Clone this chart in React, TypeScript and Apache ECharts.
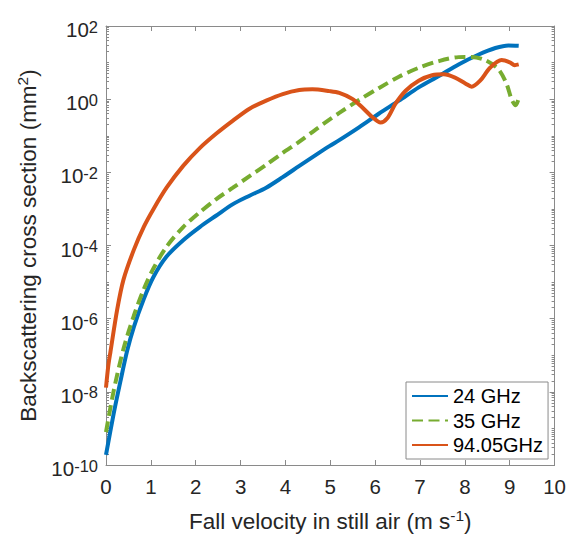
import React, { useEffect, useRef } from 'react';
import * as echarts from 'echarts';

// Fall velocity (m s^-1) and backscattering cross section (mm^2)
const velocity24 = [0, 0.17, 0.32, 0.47, 0.62, 0.84, 1.06, 1.35, 1.72, 2.09, 2.46, 2.83, 3.2, 3.57, 3.94, 4.31, 4.68, 4.98, 5.2, 5.64, 6.08, 6.53, 6.97, 7.42, 7.86, 8.31, 8.68, 8.97, 9.2];
const sigma24 = [1.9e-10, 2.5e-9, 1.9e-8, 1.3e-7, 5.9e-7, 3.4e-6, 1.4e-5, 5.0e-5, 1.4e-4, 3.2e-4, 6.6e-4, 1.35e-3, 2.3e-3, 3.8e-3, 7.4e-3, 1.5e-2, 3.0e-2, 5.2e-2, 7.6e-2, 0.17, 0.4, 0.91, 2.1, 4.3, 8.9, 16.6, 25, 29.5, 28.8];

const velocity35 = [0, 0.17, 0.39, 0.62, 0.84, 1.06, 1.35, 1.72, 2.09, 2.46, 2.83, 3.2, 3.57, 3.94, 4.31, 4.68, 4.98, 5.2, 5.64, 6.08, 6.53, 6.97, 7.42, 7.86, 8.15, 8.45, 8.75, 8.93, 9.04, 9.13, 9.22];
const sigma35 = [7.9e-10, 1.05e-8, 1.5e-7, 1.2e-6, 6.3e-6, 2.4e-5, 9.3e-5, 3.2e-4, 8.1e-4, 1.86e-3, 3.8e-3, 7.9e-3, 1.6e-2, 3.4e-2, 6.9e-2, 0.15, 0.275, 0.42, 0.95, 2.0, 4.1, 7.2, 11, 14.1, 14.3, 11.7, 6.5, 2.6, 1.0, 0.68, 1.26];

const velocity94 = [0, 0.05, 0.1, 0.25, 0.39, 0.62, 0.84, 1.06, 1.35, 1.72, 2.09, 2.46, 2.83, 3.2, 3.57, 3.94, 4.31, 4.6, 4.98, 5.2, 5.49, 5.71, 5.94, 6.12, 6.27, 6.45, 6.68, 6.97, 7.27, 7.53, 7.78, 8.01, 8.15, 8.34, 8.56, 8.82, 9.0, 9.11, 9.2];
const sigma94 = [1.3e-8, 5.0e-8, 1.26e-7, 1.8e-6, 1.17e-5, 7.6e-5, 3.2e-4, 1.0e-3, 3.8e-3, 1.5e-2, 4.6e-2, 0.115, 0.26, 0.55, 0.91, 1.38, 1.78, 1.86, 1.66, 1.48, 1.02, 0.6, 0.32, 0.23, 0.3, 0.74, 1.7, 3.2, 4.5, 4.8, 3.9, 2.7, 2.2, 3.2, 7.2, 11.7, 10.2, 8.5, 8.9];

const seriesNames = ['24 GHz', '35 GHz', '94.05GHz'];
const seriesColors = ['#0072BD', '#77AC30', '#D95319'];

// y tick exponents (labelled every two decades)
const yLabelExponents = [-10, -8, -6, -4, -2, 0, 2];
const yDecadeExponents = [-10, -9, -8, -7, -6, -5, -4, -3, -2, -1, 0, 1, 2];
const yMinorMantissas = [2, 3, 4, 5, 6, 7, 8, 9];

const FONT = '"Liberation Sans", Arial, Helvetica, sans-serif';
const AXIS_GREY = '#8a8a8a';
const TEXT = '#262626';

const zip = (xs: number[], ys: number[]) => xs.map((x, i) => [x, ys[i]]);

export default function App() {
  const ref = useRef<HTMLDivElement>(null);
  useEffect(() => {
    const chart = echarts.init(ref.current!, null, { renderer: 'svg' });

    const majorValues = yLabelExponents.map((e) => Number(`1e${e}`));
    const minorValues: number[] = [];
    yDecadeExponents.forEach((e) => {
      minorValues.push(Number(`1e${e}`));
      if (e < 2) yMinorMantissas.forEach((m) => minorValues.push(Number(`${m}e${e}`)));
    });

    const yBase = {
      type: 'log' as const,
      logBase: 10,
      min: 1e-10,
      max: 100,
      splitLine: { show: false },
    };

    const tickLabelRich = {
      b: { fontSize: 20.5, fontFamily: FONT, color: TEXT, lineHeight: 28, padding: [7, 0, 0, 0], verticalAlign: 'top' },
      s: { fontSize: 16.5, fontFamily: FONT, color: TEXT, lineHeight: 16, padding: [6, 0, 0, 0], verticalAlign: 'top' },
    };

    const majorAxis = (pos: 'left' | 'right', labels: boolean) => ({
      ...yBase,
      position: pos,
      axisLine: { show: true, lineStyle: { color: AXIS_GREY, width: 1 } },
      axisTick: { show: true, inside: true, length: 5, customValues: majorValues, lineStyle: { color: AXIS_GREY } },
      axisLabel: labels
        ? {
            show: true,
            margin: 8,
            customValues: majorValues,
            formatter: (v: number) => `{b|10}{s|${Math.round(Math.log10(v))}}`,
            rich: tickLabelRich,
          }
        : { show: false },
    });

    const minorAxis = (pos: 'left' | 'right') => ({
      ...yBase,
      position: pos,
      axisLine: { show: false },
      axisTick: { show: true, inside: true, length: 3, customValues: minorValues, lineStyle: { color: AXIS_GREY } },
      axisLabel: { show: false },
    });

    const nameRich = {
      a: { fontSize: 22.5, fontFamily: FONT, color: TEXT, lineHeight: 26, verticalAlign: 'bottom' },
      s: { fontSize: 15.5, fontFamily: FONT, color: TEXT, lineHeight: 16, verticalAlign: 'top' },
    };

    const lineSeries = (i: number, xs: number[], ys: number[], dash?: number[]) => ({
      name: seriesNames[i],
      type: 'line',
      data: zip(xs, ys),
      showSymbol: false,
      symbol: 'none',
      smooth: 0.3,
      lineStyle: { color: seriesColors[i], width: 4, ...(dash ? { type: dash } : {}) },
      itemStyle: { color: seriesColors[i] },
      z: 3 + i,
    });

    const option: any = {
      animation: false,
      backgroundColor: '#ffffff',
      textStyle: { fontFamily: FONT },
      grid: { left: 106, right: 12, top: 26, bottom: 66, containLabel: false },
      legend: {
        orient: 'vertical',
        left: 406,
        top: 382,
        padding: [2, 5, 2, 5],
        itemWidth: 36,
        itemHeight: 14,
        itemGap: 0.5,
        backgroundColor: '#ffffff',
        borderColor: AXIS_GREY,
        borderWidth: 1,
        itemStyle: { opacity: 0, borderWidth: 0 },
        data: seriesNames,
        textStyle: { fontSize: 20, fontFamily: FONT, color: '#000', lineHeight: 24 },
      },
      xAxis: [
        {
          type: 'value',
          min: 0,
          max: 10,
          interval: 1,
          position: 'bottom',
          name: '{a|Fall velocity in still air (m s}{s|-1}{a|)}',
          nameLocation: 'middle',
          nameGap: 42,
          nameTextStyle: { rich: nameRich },
          axisLine: { show: true, lineStyle: { color: AXIS_GREY, width: 1 } },
          axisTick: { show: true, inside: true, length: 5, lineStyle: { color: AXIS_GREY } },
          axisLabel: { fontSize: 20.5, fontFamily: FONT, color: TEXT, margin: 11 },
          splitLine: { show: false },
        },
        {
          type: 'value',
          min: 0,
          max: 10,
          interval: 1,
          position: 'top',
          axisLine: { show: true, lineStyle: { color: AXIS_GREY, width: 1 } },
          axisTick: { show: true, inside: true, length: 5, lineStyle: { color: AXIS_GREY } },
          axisLabel: { show: false },
          splitLine: { show: false },
        },
      ],
      yAxis: [
        {
          ...majorAxis('left', true),
          name: '{a|Backscattering cross section (mm}{s|2}{a|)}',
          nameLocation: 'middle',
          nameGap: 57,
          nameTextStyle: { rich: nameRich },
        },
        minorAxis('left'),
        majorAxis('right', false),
        minorAxis('right'),
      ],
      series: [
        lineSeries(0, velocity24, sigma24),
        lineSeries(1, velocity35, sigma35, [11, 5.5]),
        lineSeries(2, velocity94, sigma94),
      ],
    };

    chart.setOption(option);
    return () => chart.dispose();
  }, []);

  return <div ref={ref} style={{ position: 'fixed', left: 0, top: 0, width: 569, height: 538 }} />;
}
